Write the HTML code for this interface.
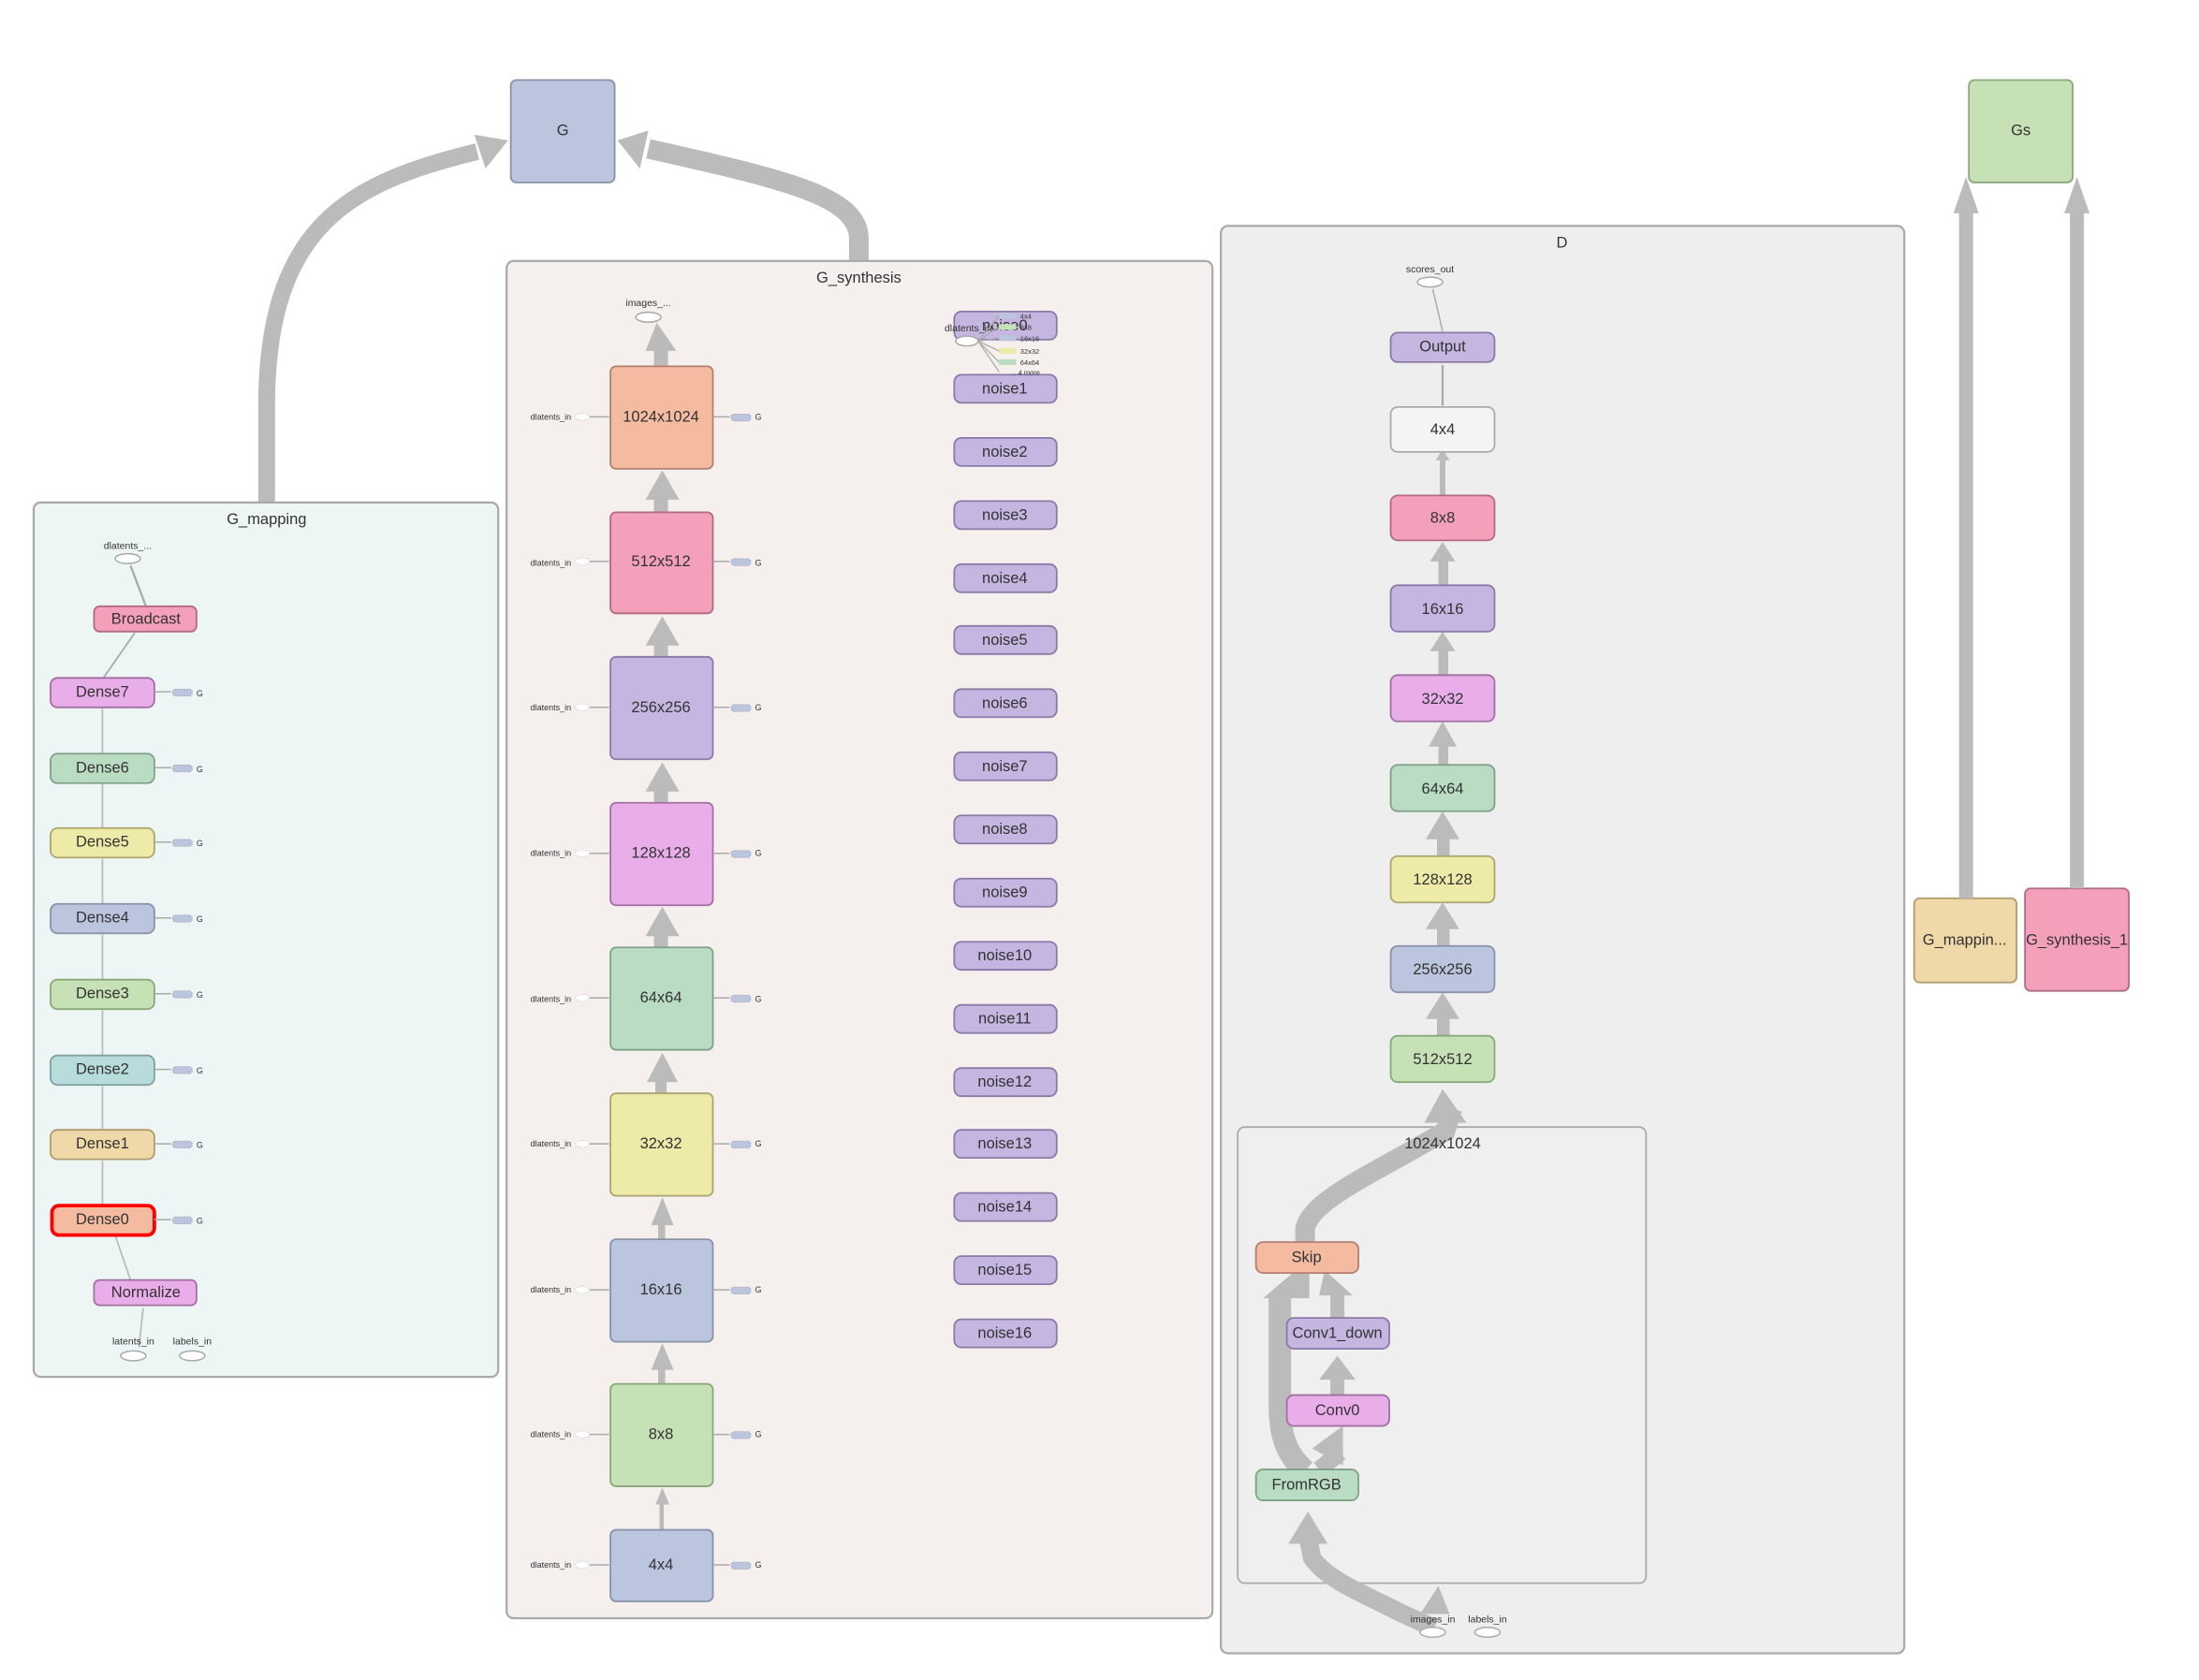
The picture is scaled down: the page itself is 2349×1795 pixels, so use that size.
<!DOCTYPE html>
<html><head><meta charset="utf-8"><style>
html,body{margin:0;padding:0;background:#fff;}
svg{display:block;font-family:"Liberation Sans",sans-serif;}
.n{stroke-width:1.2;}
.t{font-size:11px;fill:#333;text-anchor:middle;dominant-baseline:central;}
.s{font-size:7px;fill:#333;text-anchor:middle;}
.e{fill:none;stroke:#bbb;}
</style></head><body>
<svg width="2349" height="1795" viewBox="0 0 1567 1197" preserveAspectRatio="none" xmlns="http://www.w3.org/2000/svg">
<!-- top G/Gs -->
<rect x="364" y="57" width="74" height="73" rx="4" fill="#bbc5dd" stroke="#8893a8" class="n"/><text class="t" x="401" y="93">G</text>
<rect x="1403" y="57" width="74" height="73" rx="4" fill="#c5e1b5" stroke="#8aa87a" class="n"/><text class="t" x="1440" y="93">Gs</text>
<rect x="1364" y="640" width="73" height="60" rx="4" fill="#f0d9a8" stroke="#b09a70" class="n"/><text class="t" x="1400" y="670">G_mappin...</text>
<rect x="1443" y="633" width="74" height="73" rx="4" fill="#f4a0bb" stroke="#b06a82" class="n"/><text class="t" x="1480" y="670">G_synthesis_1</text>
<!-- big edges -->
<path d="M190,358 L190,290 C190,160 250,130 340,108" class="e" stroke-width="12"/>
<polygon points="362,100 338,96 346,120" fill="#bbb"/>
<path d="M612,186 L612,170 C612,140 560,128 462,106" class="e" stroke-width="14"/>
<polygon points="440,100 462,93 456,120" fill="#bbb"/>
<rect x="1396" y="150" width="10" height="490" fill="#bbb"/><polygon points="1392,152 1410,152 1401,126" fill="#bbb"/>
<rect x="1475" y="150" width="10" height="483" fill="#bbb"/><polygon points="1471,152 1489,152 1480,126" fill="#bbb"/>
<!-- G_mapping -->
<rect x="24" y="358" width="331" height="623" rx="5" fill="#eef5f5" stroke="#aaa" stroke-width="1.5"/>
<text class="t" x="190" y="370">G_mapping</text>
<ellipse cx="91" cy="398" rx="9" ry="3.5" fill="#fff" stroke="#aaa"/><text class="s" x="91" y="391">dlatents_...</text>
<line x1="104" y1="432" x2="93" y2="403" stroke="#aaa" stroke-width="1.5"/>
<line x1="73" y1="484" x2="96" y2="451" stroke="#aaa" stroke-width="1.2"/>
<rect x="67" y="432" width="73" height="18" rx="4" fill="#f4a0bb" stroke="#b06a82" class="n"/><text class="t" x="104" y="441">Broadcast</text>
<g stroke="#bbb" stroke-width="1.2"><line x1="73" y1="538" x2="73" y2="505"/><line x1="73" y1="591" x2="73" y2="558"/><line x1="73" y1="645" x2="73" y2="612"/><line x1="73" y1="699" x2="73" y2="666"/><line x1="73" y1="753" x2="73" y2="720"/><line x1="73" y1="806" x2="73" y2="774"/><line x1="73" y1="859" x2="73" y2="827"/><line x1="93" y1="912" x2="82" y2="880"/><line x1="99" y1="960" x2="102" y2="932"/></g>
<rect x="36" y="483" width="74" height="21" rx="5" fill="#e9aeea" stroke="#a070a0" class="n"/><text class="t" x="73" y="493">Dense7</text>
<rect x="36" y="537" width="74" height="21" rx="5" fill="#b9dcc3" stroke="#80a088" class="n"/><text class="t" x="73" y="547">Dense6</text>
<rect x="36" y="590" width="74" height="21" rx="5" fill="#eeeaa8" stroke="#aaa670" class="n"/><text class="t" x="73" y="600">Dense5</text>
<rect x="36" y="644" width="74" height="21" rx="5" fill="#bbc5dd" stroke="#8893a8" class="n"/><text class="t" x="73" y="654">Dense4</text>
<rect x="36" y="698" width="74" height="21" rx="5" fill="#c5e1b5" stroke="#8aa87a" class="n"/><text class="t" x="73" y="708">Dense3</text>
<rect x="36" y="752" width="74" height="21" rx="5" fill="#b8dcdc" stroke="#80a0a0" class="n"/><text class="t" x="73" y="762">Dense2</text>
<rect x="36" y="805" width="74" height="21" rx="5" fill="#f0d9a8" stroke="#b09a70" class="n"/><text class="t" x="73" y="815">Dense1</text>
<rect x="37" y="859" width="73" height="21" rx="5" fill="#f4bba0" stroke="#ff0000" stroke-width="2.5"/><text class="t" x="73" y="869">Dense0</text>
<rect x="67" y="912" width="73" height="18" rx="4" fill="#e9aeea" stroke="#a070a0" class="n"/><text class="t" x="104" y="921">Normalize</text>
<g fill="#bbc5dd" stroke="#99a" stroke-width=".5" stroke-dasharray="1,1">
<rect x="123" y="491" width="14" height="5" rx="2"/><rect x="123" y="545" width="14" height="5" rx="2"/><rect x="123" y="598" width="14" height="5" rx="2"/><rect x="123" y="652" width="14" height="5" rx="2"/><rect x="123" y="706" width="14" height="5" rx="2"/><rect x="123" y="760" width="14" height="5" rx="2"/><rect x="123" y="813" width="14" height="5" rx="2"/><rect x="123" y="867" width="14" height="5" rx="2"/></g>
<g stroke="#aaa" stroke-width="1"><line x1="110" y1="493" x2="122" y2="493"/><line x1="110" y1="547" x2="122" y2="547"/><line x1="110" y1="600" x2="122" y2="600"/><line x1="110" y1="654" x2="122" y2="654"/><line x1="110" y1="708" x2="122" y2="708"/><line x1="110" y1="762" x2="122" y2="762"/><line x1="110" y1="815" x2="122" y2="815"/><line x1="110" y1="869" x2="122" y2="869"/></g>
<g font-size="6" fill="#333"><text x="140" y="496">G</text><text x="140" y="550">G</text><text x="140" y="603">G</text><text x="140" y="657">G</text><text x="140" y="711">G</text><text x="140" y="765">G</text><text x="140" y="818">G</text><text x="140" y="872">G</text></g>
<ellipse cx="95" cy="966" rx="9" ry="3.5" fill="#fff" stroke="#aaa"/><text class="s" x="95" y="958">latents_in</text>
<ellipse cx="137" cy="966" rx="9" ry="3.5" fill="#fff" stroke="#aaa"/><text class="s" x="137" y="958">labels_in</text>
<!-- G_synthesis -->
<rect x="361" y="186" width="503" height="967" rx="5" fill="#f5f0ee" stroke="#aaa" stroke-width="1.5"/>
<text class="t" x="612" y="198">G_synthesis</text>
<ellipse cx="462" cy="226" rx="9" ry="3.5" fill="#fff" stroke="#aaa"/><text class="s" x="462" y="218">images_...</text>
<g fill="#bbb">
<rect x="466" y="248" width="10" height="13"/><polygon points="460,250 482,250 468,230"/>
<rect x="466" y="352" width="10" height="13"/><polygon points="460,356 484,356 472,335"/>
<rect x="466" y="456" width="10" height="12"/><polygon points="460,460 484,460 472,439"/>
<rect x="466" y="560" width="10" height="12"/><polygon points="460,564 484,564 472,543"/>
<rect x="466" y="663" width="10" height="12"/><polygon points="460,667 484,667 472,646"/>
<rect x="467" y="767" width="8" height="12"/><polygon points="461,771 483,771 472,750"/>
<rect x="469" y="871" width="5" height="12"/><polygon points="464,873 480,873 472,853"/>
<rect x="469" y="974" width="5" height="12"/><polygon points="464,976 480,976 472,957"/>
<rect x="470" y="1070" width="3" height="20"/><polygon points="467,1072 477,1072 472,1060"/>
</g>
<rect x="435" y="261" width="73" height="73" rx="4" fill="#f4bba0" stroke="#b08070" class="n"/><text class="t" x="471" y="297">1024x1024</text>
<rect x="435" y="365" width="73" height="72" rx="4" fill="#f4a0bb" stroke="#b06a82" class="n"/><text class="t" x="471" y="400">512x512</text>
<rect x="435" y="468" width="73" height="73" rx="4" fill="#c5b5e1" stroke="#8a7aa8" class="n"/><text class="t" x="471" y="504">256x256</text>
<rect x="435" y="572" width="73" height="73" rx="4" fill="#e9aeea" stroke="#a070a0" class="n"/><text class="t" x="471" y="608">128x128</text>
<rect x="435" y="675" width="73" height="73" rx="4" fill="#b9dcc3" stroke="#80a088" class="n"/><text class="t" x="471" y="711">64x64</text>
<rect x="435" y="779" width="73" height="73" rx="4" fill="#eeeaa8" stroke="#aaa670" class="n"/><text class="t" x="471" y="815">32x32</text>
<rect x="435" y="883" width="73" height="73" rx="4" fill="#bbc5dd" stroke="#8893a8" class="n"/><text class="t" x="471" y="919">16x16</text>
<rect x="435" y="986" width="73" height="73" rx="4" fill="#c5e1b5" stroke="#8aa87a" class="n"/><text class="t" x="471" y="1022">8x8</text>
<rect x="435" y="1090" width="73" height="51" rx="4" fill="#bbc5dd" stroke="#8893a8" class="n"/><text class="t" x="471" y="1115">4x4</text>
<g font-size="6" fill="#333">
<text x="378" y="299">dlatents_in</text><text x="378" y="403">dlatents_in</text><text x="378" y="506">dlatents_in</text><text x="378" y="610">dlatents_in</text><text x="378" y="714">dlatents_in</text><text x="378" y="817">dlatents_in</text><text x="378" y="921">dlatents_in</text><text x="378" y="1024">dlatents_in</text><text x="378" y="1117">dlatents_in</text>
<text x="538" y="299">G</text><text x="538" y="403">G</text><text x="538" y="506">G</text><text x="538" y="610">G</text><text x="538" y="714">G</text><text x="538" y="817">G</text><text x="538" y="921">G</text><text x="538" y="1024">G</text><text x="538" y="1117">G</text></g>
<g stroke="#aaa" stroke-width="1">
<line x1="420" y1="297" x2="434" y2="297"/><line x1="420" y1="400" x2="434" y2="400"/><line x1="420" y1="504" x2="434" y2="504"/><line x1="420" y1="608" x2="434" y2="608"/><line x1="420" y1="711" x2="434" y2="711"/><line x1="420" y1="815" x2="434" y2="815"/><line x1="420" y1="919" x2="434" y2="919"/><line x1="420" y1="1022" x2="434" y2="1022"/><line x1="420" y1="1115" x2="434" y2="1115"/>
<line x1="508" y1="297" x2="520" y2="297"/><line x1="508" y1="400" x2="520" y2="400"/><line x1="508" y1="504" x2="520" y2="504"/><line x1="508" y1="608" x2="520" y2="608"/><line x1="508" y1="711" x2="520" y2="711"/><line x1="508" y1="815" x2="520" y2="815"/><line x1="508" y1="919" x2="520" y2="919"/><line x1="508" y1="1022" x2="520" y2="1022"/><line x1="508" y1="1115" x2="520" y2="1115"/></g>
<g fill="#fff" stroke="#ccc" stroke-width=".6" stroke-dasharray="1,1">
<ellipse cx="415" cy="297" rx="5" ry="2.5"/><ellipse cx="415" cy="400" rx="5" ry="2.5"/><ellipse cx="415" cy="504" rx="5" ry="2.5"/><ellipse cx="415" cy="608" rx="5" ry="2.5"/><ellipse cx="415" cy="711" rx="5" ry="2.5"/><ellipse cx="415" cy="815" rx="5" ry="2.5"/><ellipse cx="415" cy="919" rx="5" ry="2.5"/><ellipse cx="415" cy="1022" rx="5" ry="2.5"/><ellipse cx="415" cy="1115" rx="5" ry="2.5"/></g>
<g fill="#bbc5dd" stroke="#99a" stroke-width=".5" stroke-dasharray="1,1">
<rect x="521" y="295" width="14" height="5" rx="2"/><rect x="521" y="398" width="14" height="5" rx="2"/><rect x="521" y="502" width="14" height="5" rx="2"/><rect x="521" y="606" width="14" height="5" rx="2"/><rect x="521" y="709" width="14" height="5" rx="2"/><rect x="521" y="813" width="14" height="5" rx="2"/><rect x="521" y="917" width="14" height="5" rx="2"/><rect x="521" y="1020" width="14" height="5" rx="2"/><rect x="521" y="1113" width="14" height="5" rx="2"/></g>
<g fill="#c5b5e1" stroke="#8a7aa8" stroke-width="1.2">
<rect x="680" y="222" width="73" height="20" rx="5"/>
<rect x="680" y="267" width="73" height="20" rx="5"/><rect x="680" y="312" width="73" height="20" rx="5"/><rect x="680" y="357" width="73" height="20" rx="5"/><rect x="680" y="402" width="73" height="20" rx="5"/><rect x="680" y="446" width="73" height="20" rx="5"/><rect x="680" y="491" width="73" height="20" rx="5"/><rect x="680" y="536" width="73" height="20" rx="5"/><rect x="680" y="581" width="73" height="20" rx="5"/><rect x="680" y="626" width="73" height="20" rx="5"/><rect x="680" y="671" width="73" height="20" rx="5"/><rect x="680" y="716" width="73" height="20" rx="5"/><rect x="680" y="761" width="73" height="20" rx="5"/><rect x="680" y="805" width="73" height="20" rx="5"/><rect x="680" y="850" width="73" height="20" rx="5"/><rect x="680" y="895" width="73" height="20" rx="5"/><rect x="680" y="940" width="73" height="20" rx="5"/></g>
<text class="t" x="716" y="232">noise0</text>
<text class="t" x="716" y="277">noise1</text><text class="t" x="716" y="322">noise2</text><text class="t" x="716" y="367">noise3</text><text class="t" x="716" y="412">noise4</text><text class="t" x="716" y="456">noise5</text><text class="t" x="716" y="501">noise6</text><text class="t" x="716" y="546">noise7</text><text class="t" x="716" y="591">noise8</text><text class="t" x="716" y="636">noise9</text><text class="t" x="716" y="681">noise10</text><text class="t" x="716" y="726">noise11</text><text class="t" x="716" y="771">noise12</text><text class="t" x="716" y="815">noise13</text><text class="t" x="716" y="860">noise14</text><text class="t" x="716" y="905">noise15</text><text class="t" x="716" y="950">noise16</text>
<text class="s" x="690" y="236">dlatents_in</text>
<ellipse cx="689" cy="243" rx="8" ry="3.5" fill="#fff" stroke="#aaa"/>
<g stroke="#aaa" stroke-width=".8"><line x1="697" y1="243" x2="712" y2="225"/><line x1="697" y1="243" x2="712" y2="233"/><line x1="697" y1="243" x2="712" y2="241"/><line x1="697" y1="243" x2="712" y2="250"/><line x1="697" y1="243" x2="712" y2="258"/><line x1="697" y1="243" x2="712" y2="265"/></g>
<rect x="712" y="223" width="12" height="4" fill="#bbc5dd"/><rect x="712" y="231" width="12" height="4" fill="#c5e1b5"/><rect x="712" y="239" width="12" height="4" fill="#bbc5dd"/><rect x="712" y="248" width="12" height="4" fill="#eeeaa8"/><rect x="712" y="256" width="12" height="4" fill="#b9dcc3"/>
<g font-size="5" fill="#333"><text x="727" y="227">4x4</text><text x="727" y="235">8x8</text><text x="727" y="243">16x16</text><text x="727" y="252">32x32</text><text x="727" y="260">64x64</text><text x="720" y="267">... 4 more</text></g>
<!-- D -->
<rect x="870" y="161" width="487" height="1017" rx="5" fill="#eeeeee" stroke="#aaa" stroke-width="1.5"/>
<text class="t" x="1113" y="173">D</text>
<ellipse cx="1019" cy="201" rx="9" ry="3.5" fill="#fff" stroke="#aaa"/><text class="s" x="1019" y="194">scores_out</text>
<line x1="1028" y1="236" x2="1021" y2="206" stroke="#aaa" stroke-width="1"/>
<line x1="1028" y1="289" x2="1028" y2="260" stroke="#aaa" stroke-width="1.5"/>
<g fill="#bbb">
<rect x="1026" y="325" width="4" height="28"/><polygon points="1023,328 1033,328 1028,320"/>
<rect x="1025" y="398" width="7" height="19"/><polygon points="1019,400 1037,400 1028,386"/>
<rect x="1025" y="462" width="7" height="19"/><polygon points="1019,464 1037,464 1028,450"/>
<rect x="1025" y="530" width="7" height="15"/><polygon points="1018,532 1038,532 1028,514"/>
<rect x="1024" y="596" width="9" height="14"/><polygon points="1016,598 1040,598 1028,578"/>
<rect x="1024" y="660" width="9" height="14"/><polygon points="1016,662 1040,662 1028,643"/>
<rect x="1024" y="724" width="9" height="14"/><polygon points="1016,726 1040,726 1028,707"/>
</g>
<rect x="991" y="237" width="74" height="21" rx="5" fill="#c5b5e1" stroke="#8a7aa8" class="n"/><text class="t" x="1028" y="247">Output</text>
<rect x="991" y="290" width="74" height="32" rx="5" fill="#f4f4f4" stroke="#aaa" class="n"/><text class="t" x="1028" y="306">4x4</text>
<rect x="991" y="353" width="74" height="32" rx="5" fill="#f4a0bb" stroke="#b06a82" class="n"/><text class="t" x="1028" y="369">8x8</text>
<rect x="991" y="417" width="74" height="33" rx="5" fill="#c5b5e1" stroke="#8a7aa8" class="n"/><text class="t" x="1028" y="434">16x16</text>
<rect x="991" y="481" width="74" height="33" rx="5" fill="#e9aeea" stroke="#a070a0" class="n"/><text class="t" x="1028" y="498">32x32</text>
<rect x="991" y="545" width="74" height="33" rx="5" fill="#b9dcc3" stroke="#80a088" class="n"/><text class="t" x="1028" y="562">64x64</text>
<rect x="991" y="610" width="74" height="33" rx="5" fill="#eeeaa8" stroke="#aaa670" class="n"/><text class="t" x="1028" y="627">128x128</text>
<rect x="991" y="674" width="74" height="33" rx="5" fill="#bbc5dd" stroke="#8893a8" class="n"/><text class="t" x="1028" y="691">256x256</text>
<rect x="991" y="738" width="74" height="33" rx="5" fill="#c5e1b5" stroke="#8aa87a" class="n"/><text class="t" x="1028" y="755">512x512</text>
<rect x="882" y="803" width="291" height="325" rx="5" fill="#efefef" stroke="#aaa" stroke-width="1.2"/>
<path d="M930,885 L930,875 C935,855 975,838 1030,806 L1035,790" class="e" stroke-width="14"/>
<polygon points="1015,800 1045,800 1028,776" fill="#bbb"/>
<text class="t" x="1028" y="815">1024x1024</text>
<path d="M930,1048 C915,1035 912,1020 912,1000 L912,925" class="e" stroke-width="16"/>
<polygon points="900,925 933,925 933,897" fill="#bbb"/>
<rect x="948" y="920" width="10" height="20" fill="#bbb"/><polygon points="940,923 964,923 944,905" fill="#bbb"/>
<rect x="948" y="980" width="10" height="14" fill="#bbb"/><polygon points="940,983 966,983 953,966" fill="#bbb"/>
<path d="M940,1047 L955,1035" class="e" stroke-width="12"/><polygon points="935,1032 957,1016 957,1044" fill="#bbb"/>
<path d="M1022,1160 L1000,1150 C970,1135 945,1125 935,1110 L932,1095" class="e" stroke-width="13"/>
<polygon points="918,1100 946,1100 932,1077" fill="#bbb"/>
<polygon points="1012,1150 1033,1150 1025,1130" fill="#bbb"/>
<rect x="895" y="885" width="73" height="22" rx="5" fill="#f4bba0" stroke="#b08070" class="n"/><text class="t" x="931" y="896">Skip</text>
<rect x="917" y="939" width="73" height="22" rx="5" fill="#c5b5e1" stroke="#8a7aa8" class="n"/><text class="t" x="953" y="950">Conv1_down</text>
<rect x="917" y="994" width="73" height="22" rx="5" fill="#e9aeea" stroke="#a070a0" class="n"/><text class="t" x="953" y="1005">Conv0</text>
<rect x="895" y="1047" width="73" height="22" rx="5" fill="#b9dcc3" stroke="#80a088" class="n"/><text class="t" x="931" y="1058">FromRGB</text>
<ellipse cx="1021" cy="1163" rx="9" ry="3.5" fill="#fff" stroke="#aaa"/><text class="s" x="1021" y="1156">images_in</text>
<ellipse cx="1060" cy="1163" rx="9" ry="3.5" fill="#fff" stroke="#aaa"/><text class="s" x="1060" y="1156">labels_in</text>
</svg>
</body></html>
